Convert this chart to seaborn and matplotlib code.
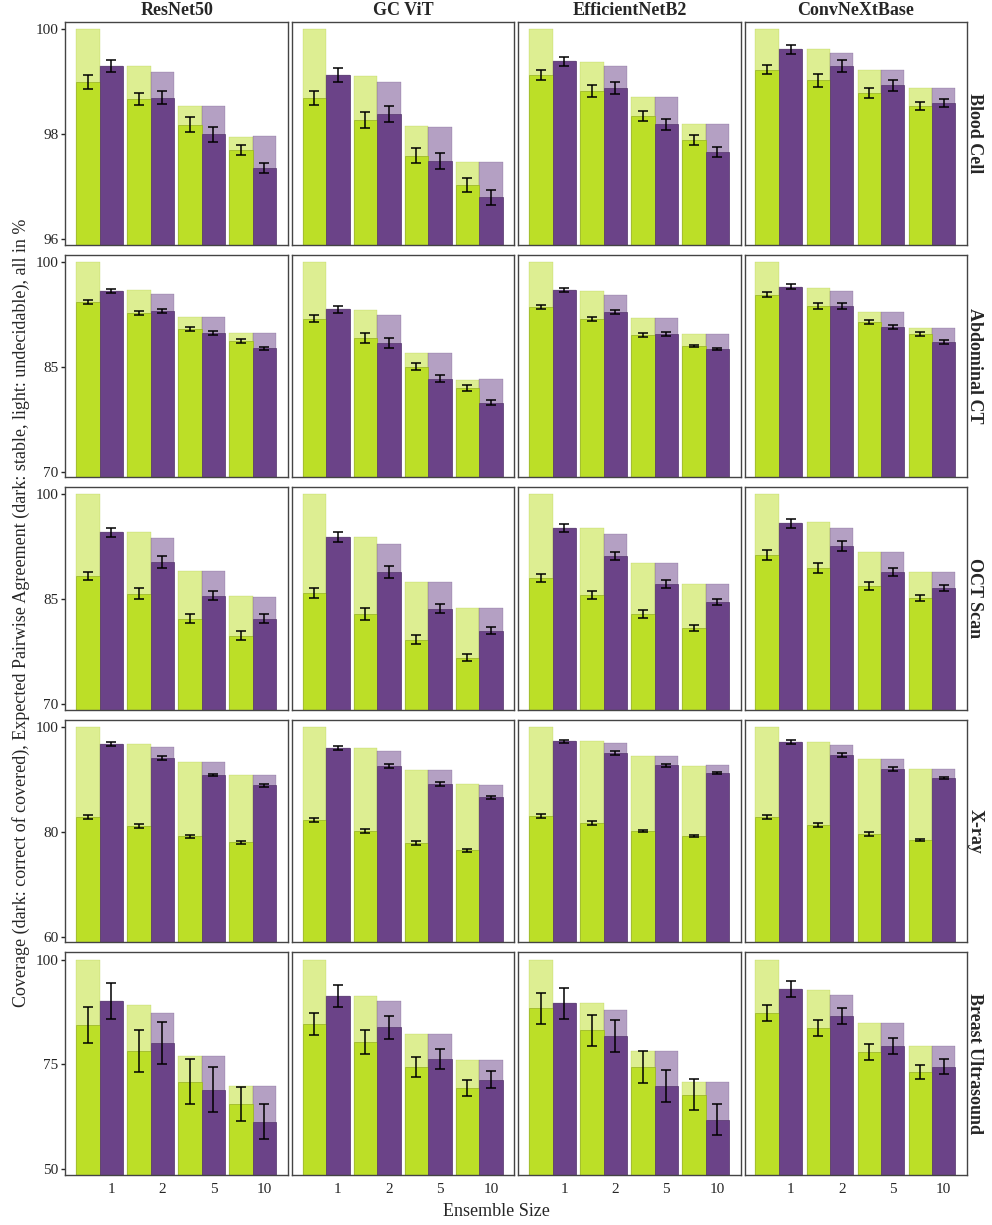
import numpy as np
import pandas as pd
import seaborn as sns
import matplotlib
matplotlib.use("Agg")
import matplotlib.pyplot as plt
from matplotlib.colors import to_rgb

# ---------------------------------------------------------------------------
# Data (values in %), one list per model: ResNet50, GC ViT, EfficientNetB2, ConvNeXtBase
# Each inner list follows ensemble sizes 1, 2, 5, 10
# ---------------------------------------------------------------------------
MODELS = ["ResNet50", "GC ViT", "EfficientNetB2", "ConvNeXtBase"]
DATASETS = ["Blood Cell", "Abdominal CT", "OCT Scan", "X-ray", "Breast Ultrasound"]
SIZES = ["1", "2", "5", "10"]

# Blood Cell
blood_cov_total = [[100, 99.30, 98.54, 97.95], [100, 99.11, 98.16, 97.47],
                   [100, 99.38, 98.71, 98.20], [100, 99.62, 99.23, 98.88]]
blood_cov_correct = [[99.00, 98.67, 98.18, 97.70], [98.69, 98.27, 97.59, 97.03],
                     [99.13, 98.83, 98.35, 97.89], [99.23, 99.03, 98.79, 98.54]]
blood_cov_err = [[0.13, 0.12, 0.14, 0.10], [0.13, 0.15, 0.14, 0.14],
                 [0.09, 0.11, 0.10, 0.09], [0.09, 0.12, 0.10, 0.08]]
blood_agr_total = [[99.30, 99.19, 98.54, 97.97], [99.13, 99.00, 98.14, 97.47],
                   [99.39, 99.30, 98.71, 98.20], [99.62, 99.55, 99.23, 98.88]]
blood_agr_stable = [[99.30, 98.70, 98.00, 97.36], [99.13, 98.39, 97.49, 96.80],
                    [99.39, 98.88, 98.19, 97.66], [99.62, 99.30, 98.93, 98.60]]
blood_agr_err = [[0.12, 0.12, 0.14, 0.10], [0.13, 0.15, 0.15, 0.14],
                 [0.09, 0.11, 0.10, 0.09], [0.09, 0.12, 0.10, 0.08]]

# Abdominal CT
abd_cov_total = [[100, 96.00, 92.13, 89.84], [100, 93.13, 86.98, 83.12],
                 [100, 95.85, 91.99, 89.70], [100, 96.28, 92.85, 90.56]]
abd_cov_correct = [[94.28, 92.70, 90.41, 88.70], [91.85, 89.13, 84.98, 81.97],
                   [93.56, 91.85, 89.56, 87.98], [95.28, 93.71, 91.42, 89.70]]
abd_cov_err = [[0.26, 0.26, 0.26, 0.24], [0.50, 0.67, 0.50, 0.38],
               [0.26, 0.24, 0.24, 0.21], [0.36, 0.40, 0.31, 0.24]]
abd_agr_total = [[95.85, 95.42, 92.13, 89.84], [93.23, 92.42, 86.98, 83.26],
                 [96.00, 95.28, 91.99, 89.70], [96.42, 95.85, 92.85, 90.56]]
abd_agr_stable = [[95.85, 92.99, 89.84, 87.65], [93.23, 88.41, 83.26, 79.83],
                  [96.00, 92.85, 89.70, 87.55], [96.42, 93.71, 90.70, 88.56]]
abd_agr_err = [[0.26, 0.26, 0.26, 0.21], [0.52, 0.67, 0.50, 0.36],
               [0.24, 0.26, 0.29, 0.21], [0.36, 0.40, 0.26, 0.29]]

# OCT Scan
oct_cov_total = [[100, 94.60, 89.05, 85.50], [100, 93.89, 87.49, 83.79],
                 [100, 95.17, 90.19, 87.20], [100, 96.02, 91.75, 88.91]]
oct_cov_correct = [[88.34, 85.78, 82.23, 79.81], [85.92, 82.94, 79.24, 76.68],
                   [88.06, 85.64, 82.94, 80.95], [91.33, 89.48, 86.92, 85.21]]
oct_cov_err = [[0.64, 0.80, 0.66, 0.66], [0.73, 0.83, 0.62, 0.52],
               [0.59, 0.57, 0.55, 0.43], [0.69, 0.69, 0.57, 0.45]]
oct_agr_total = [[94.60, 93.74, 89.05, 85.36], [93.89, 92.89, 87.49, 83.79],
                 [95.21, 94.31, 90.19, 87.20], [95.88, 95.17, 91.75, 88.91]]
oct_agr_stable = [[94.60, 90.33, 85.50, 82.23], [93.89, 88.91, 83.65, 80.52],
                  [95.21, 91.18, 87.20, 84.64], [95.88, 92.61, 88.91, 86.64]]
oct_agr_err = [[0.64, 0.80, 0.64, 0.66], [0.73, 0.83, 0.62, 0.50],
               [0.55, 0.57, 0.57, 0.45], [0.66, 0.69, 0.57, 0.47]]

# X-ray
xray_cov_total = [[100, 96.76, 93.32, 90.85], [100, 96.00, 91.80, 89.13],
                  [100, 97.33, 94.47, 92.56], [100, 97.14, 93.90, 91.99]]
xray_cov_correct = [[82.84, 81.12, 79.21, 78.07], [82.26, 80.17, 77.88, 76.54],
                    [83.03, 81.69, 80.17, 79.21], [82.84, 81.31, 79.59, 78.45]]
xray_cov_err = [[0.35, 0.32, 0.29, 0.29], [0.41, 0.38, 0.38, 0.29],
                [0.35, 0.35, 0.25, 0.22], [0.41, 0.41, 0.32, 0.22]]
xray_agr_total = [[96.76, 96.19, 93.32, 90.85], [96.00, 95.42, 91.80, 88.94],
                  [97.33, 96.95, 94.47, 92.75], [97.14, 96.57, 93.90, 91.99]]
xray_agr_stable = [[96.76, 94.09, 90.85, 88.94], [96.00, 92.56, 89.13, 86.65],
                   [97.33, 95.04, 92.75, 91.23], [97.14, 94.66, 91.99, 90.27]]
xray_agr_err = [[0.32, 0.35, 0.25, 0.29], [0.38, 0.41, 0.35, 0.29],
                [0.29, 0.32, 0.29, 0.22], [0.38, 0.41, 0.32, 0.25]]

# Breast Ultrasound
bus_cov_total = [[100, 89.10, 77.01, 69.91], [100, 91.23, 82.23, 76.07],
                 [100, 89.57, 78.20, 70.85], [100, 92.65, 84.83, 79.38]]
bus_cov_correct = [[84.36, 78.20, 70.85, 65.64], [84.60, 80.33, 74.41, 69.43],
                   [88.39, 83.18, 74.41, 67.77], [87.20, 83.65, 77.96, 73.22]]
bus_cov_err = [[4.23, 4.90, 5.37, 4.07], [2.60, 2.80, 2.33, 1.97],
               [3.63, 3.70, 3.83, 3.67], [1.86, 1.90, 1.93, 1.74]]
bus_agr_total = [[90.05, 87.20, 77.01, 69.91], [91.23, 90.05, 82.23, 76.07],
                 [89.57, 87.91, 78.20, 70.85], [92.89, 91.47, 84.83, 79.38]]
bus_agr_stable = [[90.05, 80.09, 68.96, 61.37], [91.23, 83.89, 76.30, 71.33],
                  [89.57, 81.75, 69.91, 61.85], [92.89, 86.49, 79.38, 74.41]]
bus_agr_err = [[4.27, 4.94, 5.37, 4.10], [2.60, 2.72, 2.45, 2.00],
               [3.63, 3.75, 3.83, 3.70], [1.90, 1.93, 1.90, 1.78]]

TABLES = {
    "Blood Cell": (blood_cov_total, blood_cov_correct, blood_cov_err,
                   blood_agr_total, blood_agr_stable, blood_agr_err),
    "Abdominal CT": (abd_cov_total, abd_cov_correct, abd_cov_err,
                     abd_agr_total, abd_agr_stable, abd_agr_err),
    "OCT Scan": (oct_cov_total, oct_cov_correct, oct_cov_err,
                 oct_agr_total, oct_agr_stable, oct_agr_err),
    "X-ray": (xray_cov_total, xray_cov_correct, xray_cov_err,
              xray_agr_total, xray_agr_stable, xray_agr_err),
    "Breast Ultrasound": (bus_cov_total, bus_cov_correct, bus_cov_err,
                          bus_agr_total, bus_agr_stable, bus_agr_err),
}

Y_TICKS = {
    "Blood Cell": [96, 98, 100],
    "Abdominal CT": [70, 85, 100],
    "OCT Scan": [70, 85, 100],
    "X-ray": [60, 80, 100],
    "Breast Ultrasound": [50, 75, 100],
}

GREEN = "#bcdf27"
PURPLE = "#6b4388"
METRICS = ["Coverage", "Agreement"]
PALETTE = {"Coverage": GREEN, "Agreement": PURPLE}
BAR_WIDTH = 0.92


def darker(c, f=0.8):
    r, g, b = to_rgb(c)
    return (r * f, g * f, b * f)


sns.set_theme(style="white")
plt.rcParams["font.family"] = ["Liberation Serif", "DejaVu Serif"]
plt.rcParams["axes.edgecolor"] = "#444444"
plt.rcParams["axes.linewidth"] = 1.0

fig, axes = plt.subplots(5, 4, figsize=(9.92, 12.25), dpi=100, sharex=True, sharey="row")
fig.subplots_adjust(left=0.066, right=0.975, top=0.982, bottom=0.041,
                    wspace=0.018, hspace=0.045)

for r, ds in enumerate(DATASETS):
    cov_t, cov_c, cov_e, agr_t, agr_s, agr_e = TABLES[ds]
    for c, model in enumerate(MODELS):
        ax = axes[r, c]
        rows = []
        for k, size in enumerate(SIZES):
            rows.append(dict(size=size, metric="Coverage", total=cov_t[c][k],
                             dark=cov_c[c][k], err=cov_e[c][k]))
            rows.append(dict(size=size, metric="Agreement", total=agr_t[c][k],
                             dark=agr_s[c][k], err=agr_e[c][k]))
        df = pd.DataFrame(rows)

        # light layer: full coverage / agreement including undecidable part
        sns.barplot(data=df, x="size", y="total", hue="metric", order=SIZES,
                    hue_order=METRICS, palette=PALETTE, width=BAR_WIDTH, gap=0,
                    saturation=1, errorbar=None, legend=False, alpha=0.5,
                    linewidth=0.3, ax=ax)
        n_light = len(ax.patches)
        # dark layer: correct of covered / stable agreement
        sns.barplot(data=df, x="size", y="dark", hue="metric", order=SIZES,
                    hue_order=METRICS, palette=PALETTE, width=BAR_WIDTH, gap=0,
                    saturation=1, errorbar=None, legend=False, linewidth=0.5,
                    ax=ax)
        for i, p in enumerate(ax.patches):
            p.set_edgecolor(darker(p.get_facecolor()[:3], 0.85 if i < n_light else 0.8))

        # error bars on the dark layer
        offsets = {"Coverage": -BAR_WIDTH / 4, "Agreement": BAR_WIDTH / 4}
        for m in METRICS:
            sub = df[df.metric == m]
            xs = [SIZES.index(s) + offsets[m] for s in sub["size"]]
            ax.errorbar(xs, sub["dark"], yerr=sub["err"], fmt="none",
                        ecolor="black", elinewidth=1.1, capsize=3.5, capthick=1.1,
                        zorder=5)

        lo, hi = Y_TICKS[ds][0], Y_TICKS[ds][-1]
        span = hi - lo
        ax.set_ylim(lo - 0.026 * span, hi + 0.035 * span)
        ax.set_yticks(Y_TICKS[ds])
        ax.set_xlim(-0.67, 3.69)
        ax.set_xticks([i + BAR_WIDTH / 4 for i in range(len(SIZES))])
        ax.set_xticklabels(SIZES)
        ax.set_xlabel("")
        ax.set_ylabel("")
        ax.tick_params(axis="x", length=0, labelsize=11, pad=6)
        ax.tick_params(axis="y", length=3, width=1, labelsize=11, pad=2,
                       left=(c == 0))
        for s in ax.spines.values():
            s.set_visible(True)
            s.set_color("#444444")

        if r == 0:
            ax.set_title(model, fontsize=13, fontweight="bold", pad=5)
        if c == len(MODELS) - 1:
            ax.text(1.035, 0.5, ds, transform=ax.transAxes, rotation=270,
                    ha="center", va="center", fontsize=13, fontweight="bold")

fig.text(0.5, 0.004, "Ensemble Size", ha="center", va="bottom", fontsize=13)
fig.text(0.012, 0.5,
         "Coverage (dark: correct of covered), Expected Pairwise Agreement "
         "(dark: stable, light: undecidable), all in %",
         rotation=90, ha="left", va="center", fontsize=13)

fig.savefig("out.png", dpi=100)
